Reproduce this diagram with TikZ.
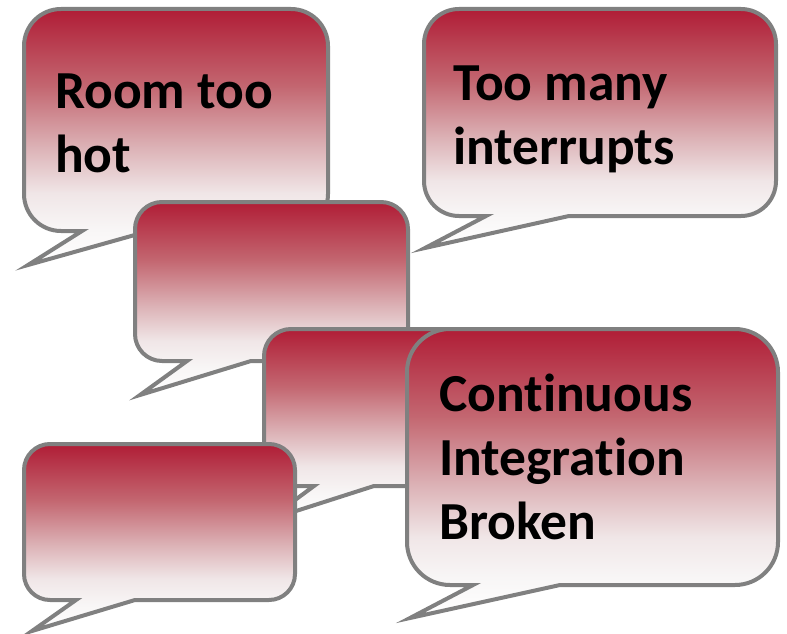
\documentclass[tikz,border=0pt]{standalone}
\usepackage{fontspec}
\setmainfont{Carlito}[Ligatures=NoCommon]
\definecolor{bred}{RGB}{176,29,54}
\definecolor{bm1}{RGB}{195,102,112}
\definecolor{bm2}{RGB}{220,178,182}
\definecolor{bm3}{RGB}{240,230,231}
\definecolor{bm4}{RGB}{248,246,246}
\definecolor{bline}{RGB}{128,128,128}
\pgfdeclareverticalshading{bubbleshade}{100bp}{color(0bp)=(white); color(25bp)=(white); color(32bp)=(bm4); color(39bp)=(bm3); color(48bp)=(bm2); color(60bp)=(bm1); color(75bp)=(bred); color(100bp)=(bred)}
\tikzset{
  bubblestyle/.style={draw=bline, line width=4pt, shading=bubbleshade, line join=miter},
  txt/.style={font=\fontsize{53.5}{64}\selectfont\bfseries, align=left, inner sep=0pt, anchor=base west, text=black}
}
% #1 L, #2 T, #3 R, #4 B, #5 r, #6 notch x, #7 right base x, #8 tip x, #9 tip y
\newcommand{\bubblepath}[9]{%
  \path[bubblestyle] (#6,-#4) -- (#8,-#9) -- (#7,-#4) -- ({#3-#5},-#4)
    arc[start angle=-90, end angle=0, radius=#5pt] -- (#3,{-#2-#5})
    arc[start angle=0, end angle=90, radius=#5pt] -- ({#1+#5},-#2)
    arc[start angle=90, end angle=180, radius=#5pt] -- (#1,{-#4+#5})
    arc[start angle=180, end angle=270, radius=#5pt] -- cycle;}
\begin{document}
\begin{tikzpicture}[x=1pt,y=1pt]
\useasboundingbox (0,0) rectangle (787,-634);
\bubblepath{24}{9}{328}{231}{37}{82}{149}{28}{265}
\node[txt] (t1) at (55,-172) {Room too\\hot};
\bubblepath{424}{9}{776}{216}{35}{486}{569}{425}{248}
\node[txt] (t2) at (453,-164) {Too many\\interrupts};
\bubblepath{135}{202}{408}{361}{27}{187}{251}{140}{395}
\bubblepath{264}{329}{529}{486}{27}{314}{374}{268}{520}
\bubblepath{24}{444}{295}{600}{26}{76}{135}{32}{631}
\bubblepath{407}{329}{778}{585}{43}{473}{560}{410}{618}
\node[txt] (t3) at (439,-539) {Continuous\\Integration\\Broken};
\end{tikzpicture}
\end{document}
